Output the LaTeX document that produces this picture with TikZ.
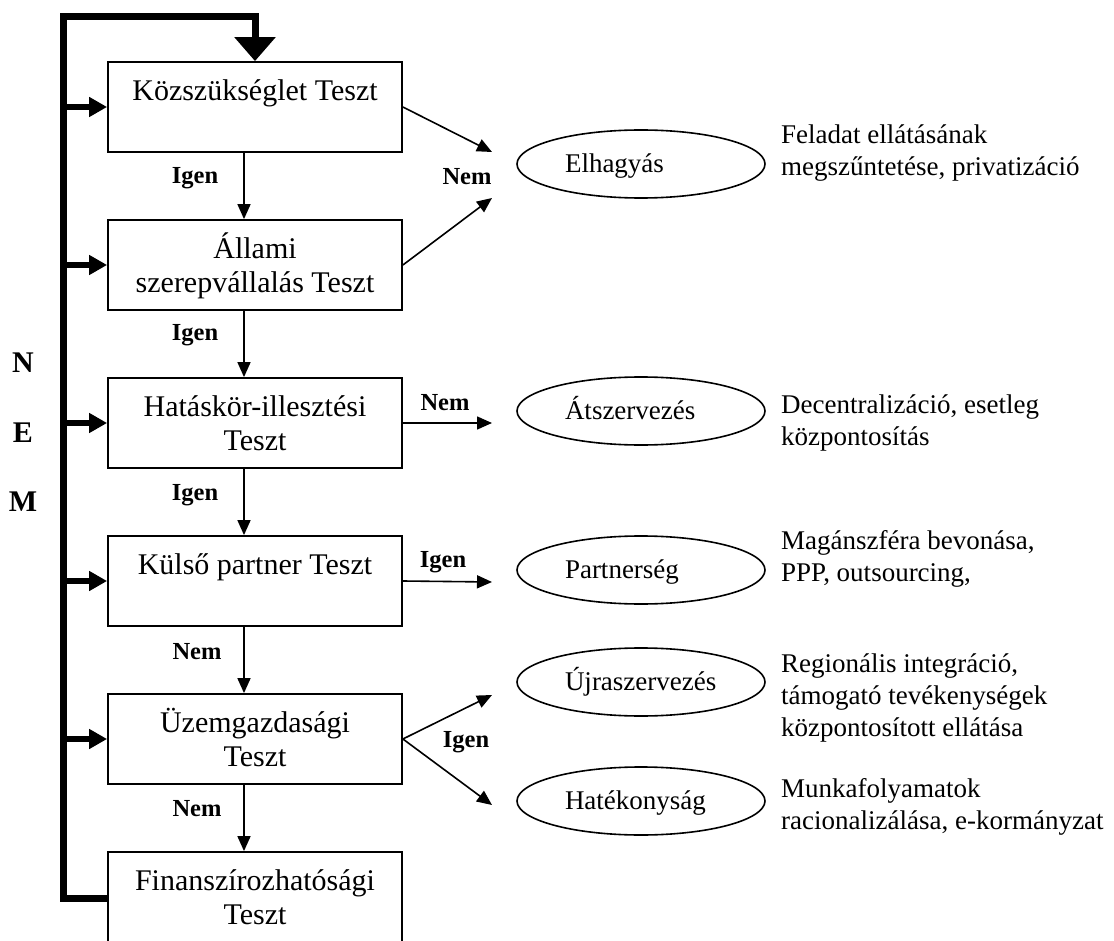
\documentclass[tikz,border=0pt]{standalone}
\usepackage{fontspec}
\setmainfont{Liberation Serif}
\usetikzlibrary{arrows.meta,shapes.geometric}
\begin{document}
\begin{tikzpicture}[x=1pt,y=-1pt,
 box/.style={draw, line width=1.8pt, minimum width=294pt, minimum height=90pt, inner sep=0pt},
 btext/.style={font=\fontsize{30}{34}\selectfont, align=center, inner sep=0pt, anchor=north},
 ell/.style={draw, ellipse, line width=1.6pt, minimum width=248pt, minimum height=68pt, inner sep=0pt, text width=152pt, align=left, font=\fontsize{27}{31}\selectfont, text height=22pt, text depth=5pt},
 stext/.style={font=\fontsize{27}{32}\selectfont, align=left, inner sep=0pt, anchor=north west},
 lbl/.style={font=\fontsize{24.5}{28}\selectfont\bfseries, inner sep=0pt},
 nemlbl/.style={font=\fontsize{30}{34}\selectfont\bfseries, inner sep=0pt},
 arr/.style={line width=1.6pt, -{Triangle[length=15pt,width=13pt]}},
 feed/.style={line width=6pt, -{Triangle[length=18pt,width=19pt]}},
 loopline/.style={line width=7pt, -{Triangle[length=24pt,width=40pt]}}
]
\useasboundingbox (0,0) rectangle (1114,941);

% boxes
\node[box] (b1) at (255,107) {};
\node[box] (b2) at (255,265) {};
\node[box] (b3) at (255,423) {};
\node[box] (b4) at (255,581) {};
\node[box] (b5) at (255,739) {};
\node[box, minimum height=92pt] (b6) at (255,898) {};

% box texts
\node[btext] (t1) at (255,72) {\rule{0pt}{28pt}Közszükséglet Teszt};
\node[btext] (t2) at (255,230) {\rule{0pt}{28pt}Állami\\szerepvállalás Teszt};
\node[btext] (t3) at (255,388) {\rule{0pt}{28pt}Hatáskör-illesztési\\Teszt};
\node[btext] (t4) at (255,546) {\rule{0pt}{28pt}Külső partner Teszt};
\node[btext] (t5) at (255,704) {\rule{0pt}{28pt}Üzemgazdasági\\Teszt};
\node[btext] (t6) at (255,862) {\rule{0pt}{28pt}Finanszírozhatósági\\Teszt};

% ellipses
\node[ell] (e1) at (641,164) {Elhagyás};
\node[ell] (e2) at (641,411) {Átszervezés};
\node[ell] (e3) at (641,570) {Partnerség};
\node[ell] (e4) at (641,682) {Újraszervezés};
\node[ell] (e5) at (641,801) {Hatékonyság};

% side texts
\node[stext] (s1) at (781,119) {\rule{0pt}{24pt}Feladat ellátásának\\megszűntetése, privatizáció};
\node[stext] (s2) at (781,389) {\rule{0pt}{24pt}Decentralizáció, esetleg\\központosítás};
\node[stext] (s3) at (781,525) {\rule{0pt}{24pt}Magánszféra bevonása,\\PPP, outsourcing,};
\node[stext] (s4) at (781,648) {\rule{0pt}{24pt}Regionális integráció,\\támogató tevékenységek\\központosított ellátása};
\node[stext] (s5) at (781,773) {\rule{0pt}{24pt}Munkafolyamatok\\racionalizálása, e-kormányzat};

% vertical flow arrows
\draw[arr] ([xshift=-11pt]b1.south) -- ([xshift=-11pt]b2.north);
\draw[arr] ([xshift=-11pt]b2.south) -- ([xshift=-11pt]b3.north);
\draw[arr] ([xshift=-11pt]b3.south) -- ([xshift=-11pt]b4.north);
\draw[arr] ([xshift=-11pt]b4.south) -- ([xshift=-11pt]b5.north);
\draw[arr] ([xshift=-11pt]b5.south) -- ([xshift=-11pt]b6.north);

% arrows towards ellipses
\coordinate (p1) at (492,152);
\coordinate (p2) at (492,198);
\coordinate (p3) at (492,423);
\coordinate (p4) at (492,582);
\coordinate (p5) at (492,695);
\coordinate (p6) at (492,805);
\draw[arr] (b1.east) -- (p1);
\draw[arr] (b2.east) -- (p2);
\draw[arr] (b3.east) -- (p3);
\draw[arr] (b4.east) -- (p4);
\draw[arr] (b5.east) -- (p5);
\draw[arr] (b5.east) -- (p6);

% labels
\node[lbl] (l1) at (195,178) {Igen};
\node[lbl] (l2) at (195,335) {Igen};
\node[lbl] (l3) at (195,495) {Igen};
\node[lbl] (l4) at (197,652) {Nem};
\node[lbl] (l5) at (197,809) {Nem};
\node[lbl] (l6) at (467,177) {Nem};
\node[lbl] (l7) at (445,403) {Nem};
\node[lbl] (l8) at (443,562) {Igen};
\node[lbl] (l9) at (466,742) {Igen};

\node[nemlbl] (n1) at (23,363) {N};
\node[nemlbl] (n2) at (23,433) {E};
\node[nemlbl] (n3) at (23,502) {M};

% feedback loop
\coordinate (c0) at (63,898);
\coordinate (c1) at (63,17);
\coordinate (c2) at (255,17);
\draw[loopline] (b6.west) -- (c0) -- (c1) -- (c2) -- (b1.north);
\draw[feed] (c1 |- b1.west) -- (b1.west);
\draw[feed] (c1 |- b2.west) -- (b2.west);
\draw[feed] (c1 |- b3.west) -- (b3.west);
\draw[feed] (c1 |- b4.west) -- (b4.west);
\draw[feed] (c1 |- b5.west) -- (b5.west);
\end{tikzpicture}
\end{document}
